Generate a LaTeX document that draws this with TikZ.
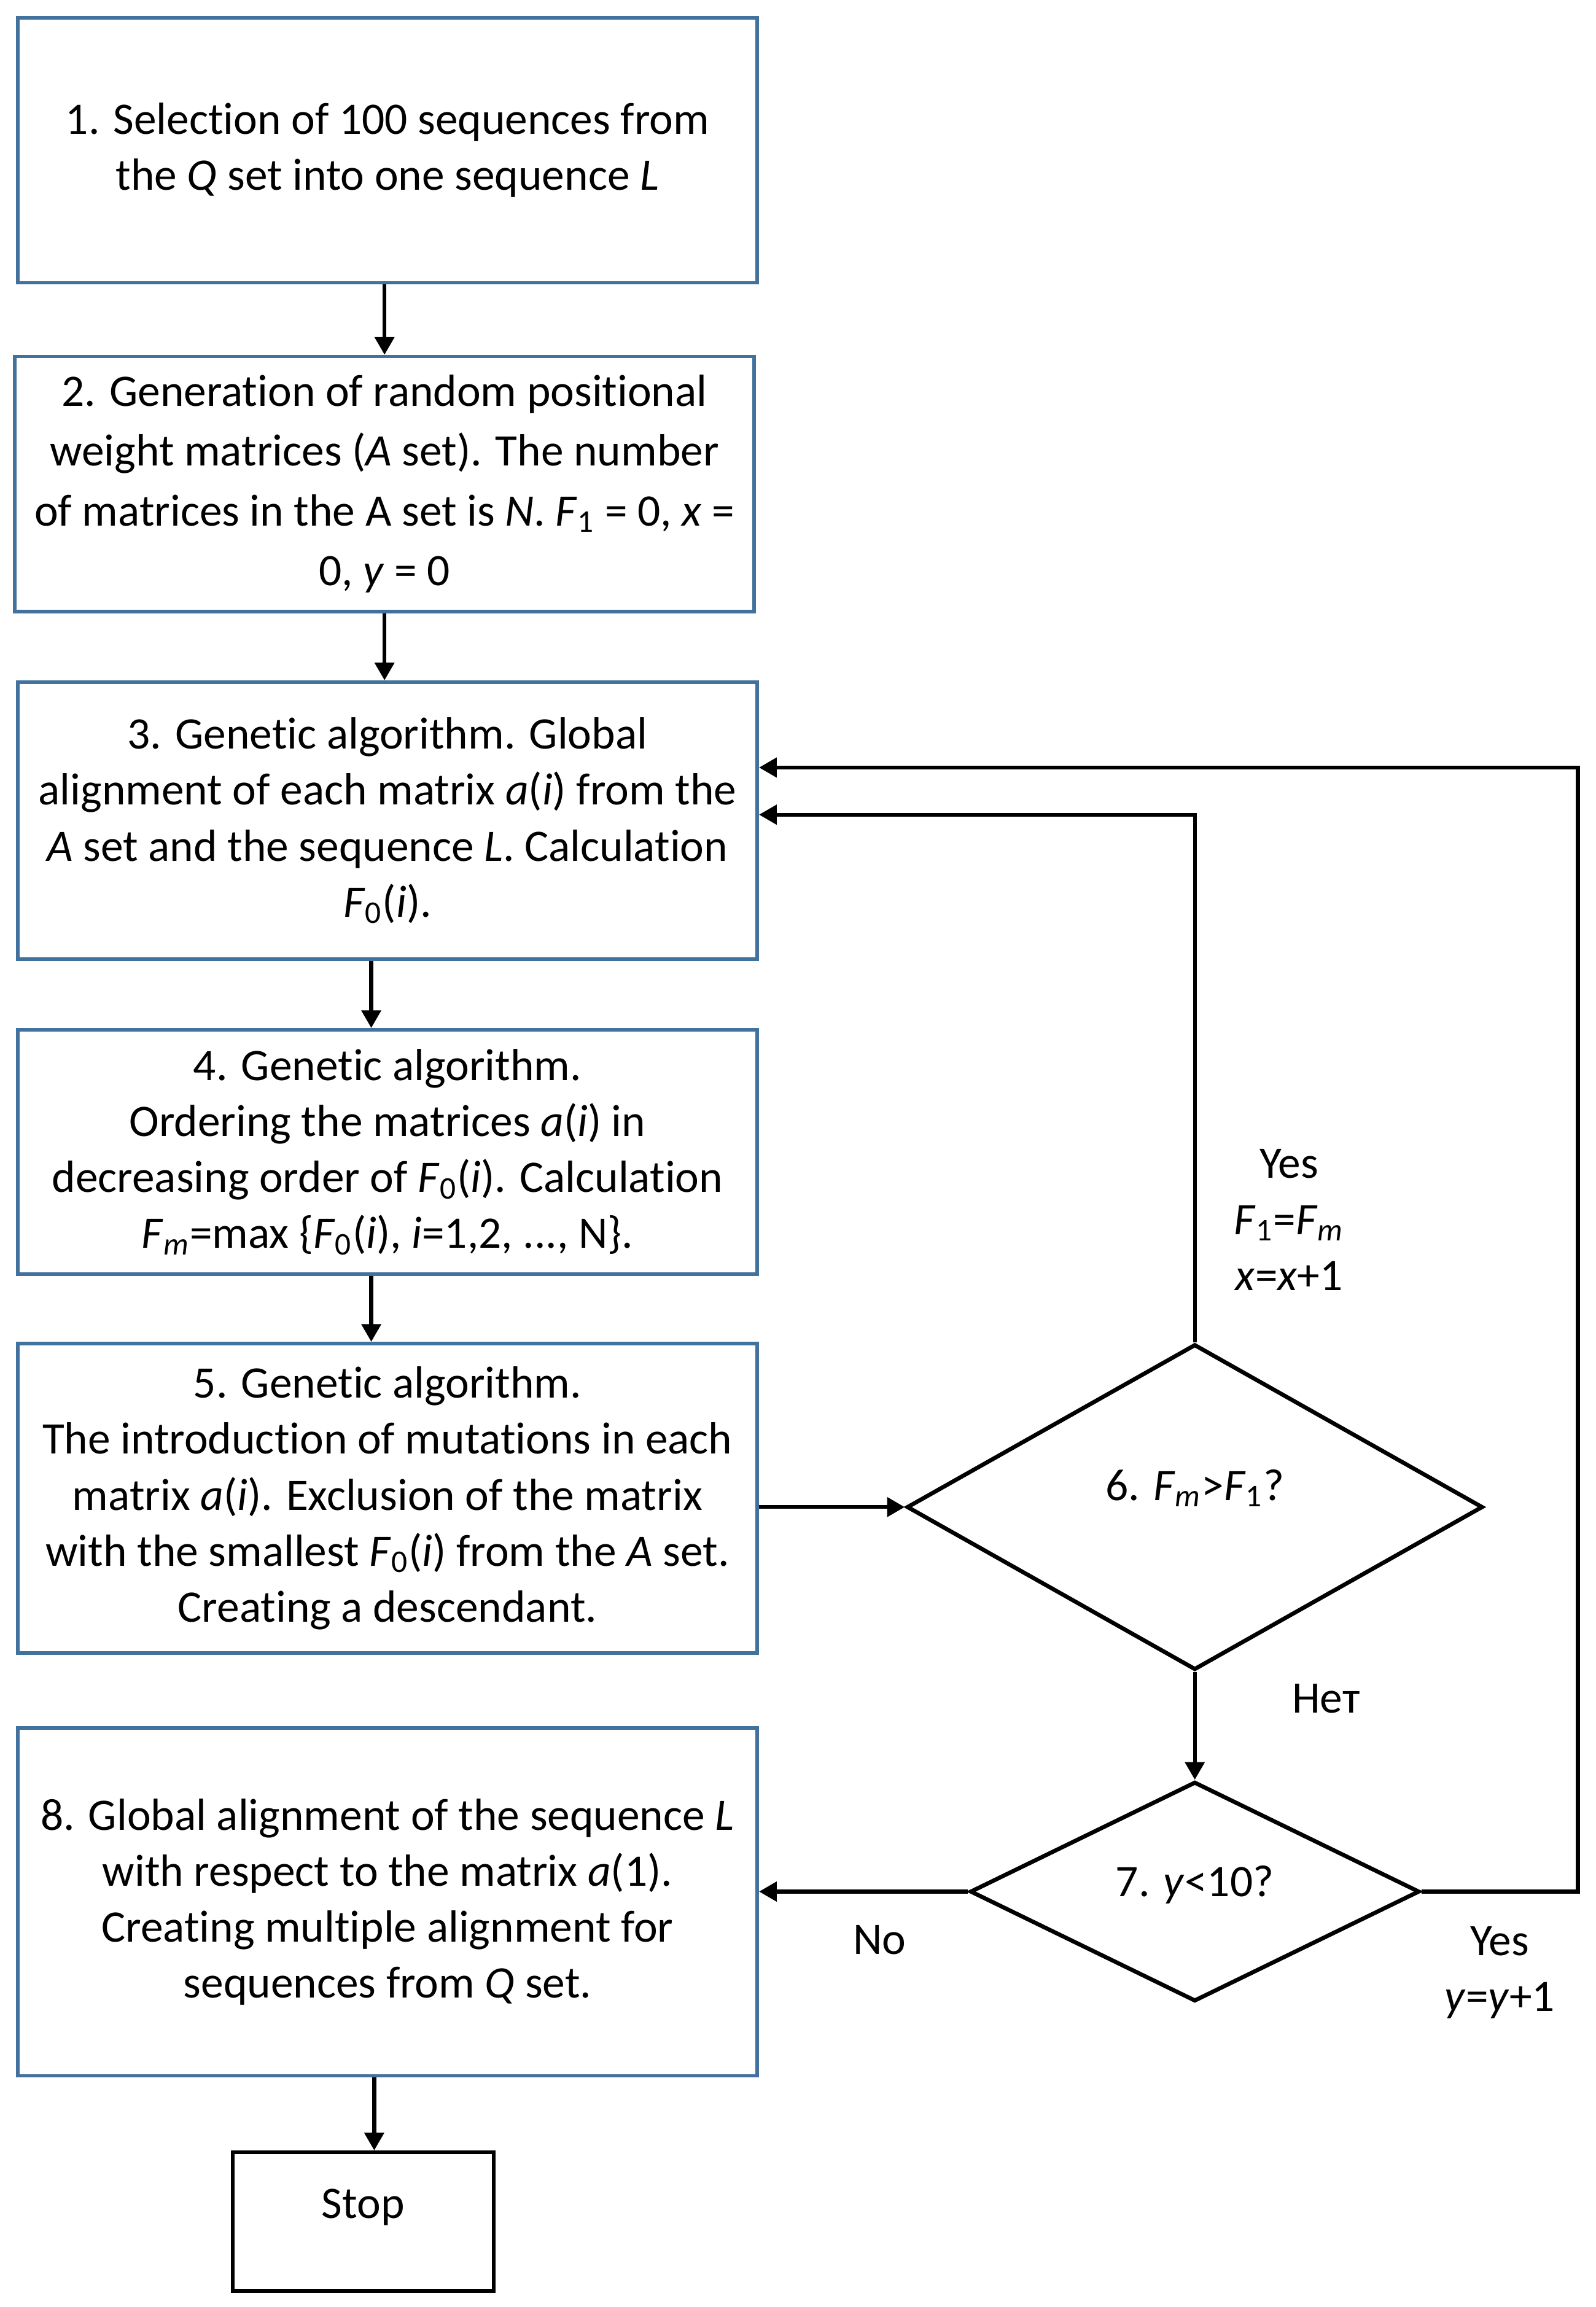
\documentclass[tikz,border=0pt]{standalone}
\usepackage{fontspec}
\setmainfont{Carlito}[Ligatures=NoCommon]
\usetikzlibrary{shapes.geometric,arrows.meta}
\definecolor{boxblue}{RGB}{65,113,156}
\newcommand{\Fs}[1]{\textit{F}\textsubscript{#1}}
\begin{document}
\begin{tikzpicture}[x=0.5pt,y=-0.5pt,
every node/.style={font=\fontsize{15.3pt}{19pt}\selectfont,align=center},
box/.style={draw=boxblue,line width=1.2pt,minimum width=251pt,inner sep=0pt},
decision/.style={draw,diamond,line width=1.4pt,inner sep=0pt},
stopbox/.style={draw,line width=1.3pt,inner sep=0pt},
arr/.style={line width=1.3pt,-{Triangle[length=6pt,width=6.5pt]}}]
\useasboundingbox (0,0) rectangle (1083,1566);
\node[box,minimum height=90pt] (b1) at (263,102)
  {1. Selection of 100 sequences from\\the \textit{Q} set into one sequence \textit{L}};
\node[box,minimum height=86.5pt,font=\fontsize{15.3pt}{20.3pt}\selectfont] (b2) at (261,328.5)
  {2. Generation of random positional\\weight matrices (\textit{A} set). The number\\of matrices in the A set is \textit{N}. \Fs{1} = 0, \textit{x} =\\0, \textit{y} = 0};
\node[box,minimum height=94pt] (b3) at (263,557)
  {3. Genetic algorithm. Global\\alignment of each matrix \textit{a}(\textit{i}) from the\\\textit{A} set and the sequence \textit{L}. Calculation\\\Fs{0}(\textit{i}).};
\node[box,minimum height=83pt] (b4) at (263,782)
  {4. Genetic algorithm.\\Ordering the matrices \textit{a}(\textit{i}) in\\decreasing order of \Fs{0}(\textit{i}). Calculation\\\Fs{\textit{m}}=max \{\Fs{0}(\textit{i}), \textit{i}=1,2, ..., N\}.};
\node[box,minimum height=105pt] (b5) at (263,1017)
  {5. Genetic algorithm.\\The introduction of mutations in each\\matrix \textit{a}(\textit{i}). Exclusion of the matrix\\with the smallest \Fs{0}(\textit{i}) from the \textit{A} set.\\Creating a descendant.};
\node[decision,minimum width=195.5pt,minimum height=110.5pt,text depth=15pt] (d6) at (811,1023)
  {6. \Fs{\textit{m}}>\Fs{1}?};
\node[decision,minimum width=152.5pt,minimum height=74.5pt,text depth=7pt] (d7) at (811,1284)
  {7. \textit{y}<10?};
\node[box,minimum height=118pt] (b8) at (263,1291)
  {8. Global alignment of the sequence \textit{L}\\with respect to the matrix \textit{a}(1).\\Creating multiple alignment for\\sequences from \textit{Q} set.};
\node[stopbox,minimum width=88.5pt,minimum height=47pt,text depth=12pt] (stop) at (246.5,1508) {Stop};
\coordinate (yloop) at (1071,1284);
\draw[arr] (b1.south -| b2.north) -- (b2.north);
\draw[arr] (b2.south) -- (b2.south |- b3.north);
\draw[arr] ([xshift=-5.5pt]b3.south) -- ([xshift=-5.5pt]b4.north);
\draw[arr] ([xshift=-5.5pt]b4.south) -- ([xshift=-5.5pt]b5.north);
\draw[arr] (b5.east |- d6.west) -- (d6.west);
\draw[arr] (d6.north) |- ([yshift=2pt]b3.east);
\draw[arr] (d6.south) -- (d7.north);
\draw[arr] (d7.east) -- (yloop) |- ([yshift=18pt]b3.east);
\draw[arr] (d7.west) -- (d7.west -| b8.east);
\draw[arr] ([xshift=-4.5pt]b8.south) -- ([xshift=-4.5pt]b8.south |- stop.north);
\node (lyes6) at (875,828) {Yes\\\Fs{1}=\Fs{\textit{m}}\\\textit{x}=\textit{x}+1};
\node (lnet) at (900,1153) {Нет};
\node (lno) at (597,1317) {No};
\node (lyes7) at (1018,1339) {Yes\\\textit{y}=\textit{y}+1};
\end{tikzpicture}
\end{document}
